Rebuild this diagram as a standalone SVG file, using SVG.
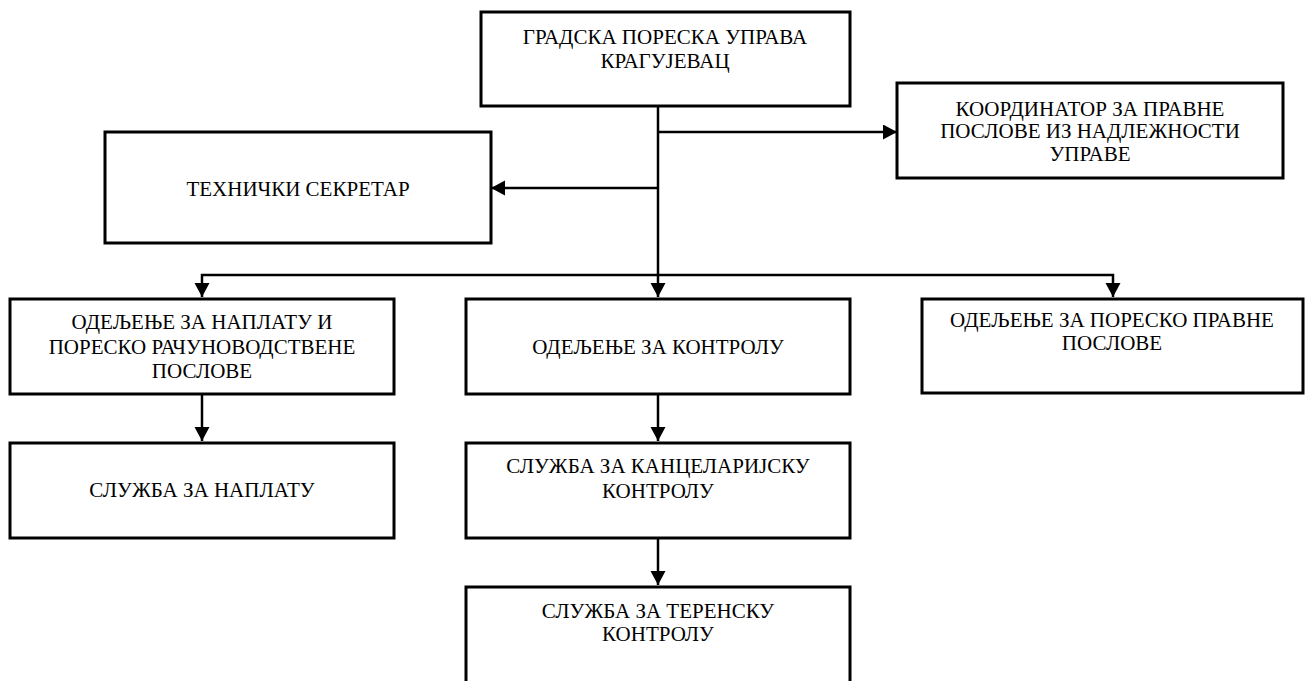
<svg xmlns="http://www.w3.org/2000/svg" width="1306" height="681" viewBox="0 0 1306 681">
<style>
.box{fill:#fff;stroke:#000;stroke-width:3}
.lbl{font-family:'Liberation Serif','DejaVu Serif',serif;font-size:21px;fill:#000;text-anchor:middle}
.con{fill:none;stroke:#000;stroke-width:2.5}
</style>
<defs>
<marker id="arr" markerUnits="userSpaceOnUse" markerWidth="16" markerHeight="16" refX="14" refY="7.5" orient="auto">
<path d="M0,0 L14,7.5 L0,15 Z" fill="#000"/>
</marker>
</defs>
<rect width="1306" height="681" fill="#fff"/>
<g id="connectors">
<line class="con" x1="658" y1="106" x2="658" y2="297" marker-end="url(#arr)"/>
<line class="con" x1="658" y1="132" x2="897" y2="132" marker-end="url(#arr)"/>
<line class="con" x1="658" y1="188" x2="491" y2="188" marker-end="url(#arr)"/>
<polyline class="con" points="658,275 202,275 202,297" marker-end="url(#arr)"/>
<polyline class="con" points="658,275 1113,275 1113,297" marker-end="url(#arr)"/>
<line class="con" x1="202" y1="394" x2="202" y2="441" marker-end="url(#arr)"/>
<line class="con" x1="658" y1="394" x2="658" y2="441" marker-end="url(#arr)"/>
<line class="con" x1="658" y1="538" x2="658" y2="585" marker-end="url(#arr)"/>
</g>
<g id="n-uprava">
<rect class="box" x="481" y="12" width="369" height="94"/>
<text class="lbl" x="665" y="44">ГРАДСКА ПОРЕСКА УПРАВА</text>
<text class="lbl" x="665" y="68">КРАГУЈЕВАЦ</text>
</g>
<g id="n-koordinator">
<rect class="box" x="897" y="83" width="386" height="95"/>
<text class="lbl" x="1090" y="116">КООРДИНАТОР ЗА ПРАВНЕ</text>
<text class="lbl" x="1090" y="138">ПОСЛОВЕ ИЗ НАДЛЕЖНОСТИ</text>
<text class="lbl" x="1090" y="161">УПРАВЕ</text>
</g>
<g id="n-sekretar">
<rect class="box" x="105" y="132" width="386" height="111"/>
<text class="lbl" x="298" y="196">ТЕХНИЧКИ СЕКРЕТАР</text>
</g>
<g id="n-naplata-odeljenje">
<rect class="box" x="10" y="299" width="384" height="95"/>
<text class="lbl" x="202" y="329">ОДЕЉЕЊЕ ЗА НАПЛАТУ И</text>
<text class="lbl" x="202" y="354">ПОРЕСКО РАЧУНОВОДСТВЕНЕ</text>
<text class="lbl" x="202" y="378">ПОСЛОВЕ</text>
</g>
<g id="n-kontrola">
<rect class="box" x="466" y="299" width="384" height="95"/>
<text class="lbl" x="658" y="354">ОДЕЉЕЊЕ ЗА КОНТРОЛУ</text>
</g>
<g id="n-pravni">
<rect class="box" x="922" y="299" width="381" height="94"/>
<text class="lbl" x="1112" y="327">ОДЕЉЕЊЕ ЗА ПОРЕСКО ПРАВНЕ</text>
<text class="lbl" x="1112" y="350">ПОСЛОВЕ</text>
</g>
<g id="n-sluzba-naplata">
<rect class="box" x="10" y="443" width="384" height="95"/>
<text class="lbl" x="202" y="497">СЛУЖБА ЗА НАПЛАТУ</text>
</g>
<g id="n-kancelarijska">
<rect class="box" x="466" y="443" width="384" height="95"/>
<text class="lbl" x="658" y="473">СЛУЖБА ЗА КАНЦЕЛАРИЈСКУ</text>
<text class="lbl" x="658" y="498">КОНТРОЛУ</text>
</g>
<g id="n-terenska">
<rect class="box" x="466" y="587" width="384" height="110"/>
<text class="lbl" x="658" y="618">СЛУЖБА ЗА ТЕРЕНСКУ</text>
<text class="lbl" x="658" y="641">КОНТРОЛУ</text>
</g>
</svg>
